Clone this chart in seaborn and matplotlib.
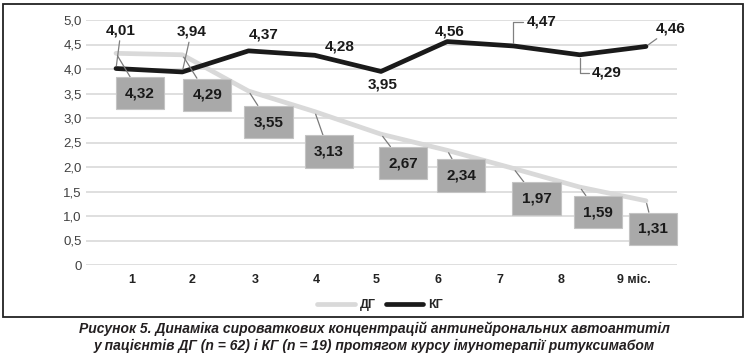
import matplotlib
matplotlib.use("Agg")
import matplotlib.pyplot as plt
from matplotlib.patches import Rectangle
from matplotlib.lines import Line2D
from matplotlib.ticker import FuncFormatter
import pandas as pd
import seaborn as sns

# дані
months = ['1', '2', '3', '4', '5', '6', '7', '8', '9 міс.']
dg = [4.32, 4.29, 3.55, 3.13, 2.67, 2.34, 1.97, 1.59, 1.31]
kg = [4.01, 3.94, 4.37, 4.28, 3.95, 4.56, 4.47, 4.29, 4.46]

# розташування підписів (зсув у пікселях від точки) і виноски
kg_offsets = [(5, 38), (9, 40), (15, 16), (25, 9), (2, -13), (2, 10), (28, 24), (27, -18), (25, 18)]
kg_leader = ['line', 'line', None, None, None, None, 'elbow', 'elbow', 'line']
dg_offsets = [(24, -40), (25, -40), (20, -31), (14, -40), (22, -29), (14, -25), (23, -30), (18, -25), (7, -28)]
tick_pos = [0.24, 1.15, 2.10, 3.02, 3.92, 4.86, 5.80, 6.72, 7.82]

caption = ['Рисунок 5. Динаміка сироваткових концентрацій антинейрональних автоантитіл',
           'у пацієнтів ДГ (n = 62) і КГ (n = 19) протягом курсу імунотерапії ритуксимабом']

colors = {'ДГ': '#d9d9d9', 'КГ': '#1a1a1a'}

df = pd.DataFrame({
    'pos': list(range(len(months))) * 2,
    'value': dg + kg,
    'group': ['ДГ'] * len(dg) + ['КГ'] * len(kg),
})

sns.set_theme(style='white')
plt.rcParams['font.family'] = ['Liberation Sans', 'DejaVu Sans']

fig = plt.figure(figsize=(7.48, 3.63), dpi=100)
ax = fig.add_axes([86 / 748, 1 - 265 / 363, (677 - 86) / 748, 245 / 363])

sns.lineplot(data=df, x='pos', y='value', hue='group', palette=colors,
             linewidth=3.4, legend=False, ax=ax)

ax.set_xlim(-0.453, 8.468)
ax.set_ylim(0, 5)
ax.set_yticks([i * 0.5 for i in range(11)])
ax.yaxis.set_major_formatter(FuncFormatter(lambda v, p: '0' if v == 0 else f'{v:.1f}'.replace('.', ',')))
ax.set_xticks(tick_pos)
ax.set_xticklabels(months, fontweight='bold')
ax.tick_params(axis='y', length=0, pad=3, labelsize=9.5, labelcolor='#404040')
ax.tick_params(axis='x', length=0, pad=6.5, labelsize=9, labelcolor='#222222')
ax.grid(axis='y', color='#d9d9d9', lw=1.2)
ax.set_axisbelow(True)
for s in ax.spines.values():
    s.set_visible(False)
ax.set_xlabel('')
ax.set_ylabel('')

# підписи КГ
for i, v in enumerate(kg):
    lab = f'{v:.2f}'.replace('.', ',')
    arrow = None
    if kg_leader[i] == 'line':
        arrow = dict(arrowstyle='-', color='#808080', lw=0.9, shrinkA=0, shrinkB=2)
    elif kg_leader[i] == 'elbow':
        arrow = dict(arrowstyle='-', color='#808080', lw=0.9, shrinkA=0, shrinkB=2,
                     connectionstyle='angle,angleA=0,angleB=90,rad=0')
    ax.annotate(lab, xy=(i, v), xytext=kg_offsets[i], textcoords='offset pixels',
                ha='center', va='center', fontsize=11, fontweight='bold',
                color='#1a1a1a', arrowprops=arrow, zorder=5)

# підписи ДГ у сірих рамках
for i, v in enumerate(dg):
    lab = f'{v:.2f}'.replace('.', ',')
    ax.annotate(lab, xy=(i, v), xytext=dg_offsets[i], textcoords='offset pixels',
                ha='center', va='center', fontsize=11, fontweight='bold',
                color='#1a1a1a',
                bbox=dict(boxstyle='square,pad=0.6', fc='#a9a9a9', ec='#c4c4c4', lw=0.8),
                arrowprops=dict(arrowstyle='-', color='#7a7a7a', lw=0.9, shrinkA=0, shrinkB=2),
                zorder=5)

handles = [Line2D([], [], color=colors[g], lw=3.4) for g in ['ДГ', 'КГ']]
leg = fig.legend(handles, ['ДГ', 'КГ'], loc='center', bbox_to_anchor=(380 / 748, 1 - 305 / 363),
                 ncol=2, frameon=False, handlelength=3.0, handletextpad=0.4, columnspacing=0.8,
                 prop={'size': 9, 'weight': 'bold'})

fig.patches.append(Rectangle((3 / 748, 1 - 317 / 363), 740 / 748, 313 / 363,
                             transform=fig.transFigure, fill=False, lw=1.3, ec='#222222'))

fig.text(0.5, 1 - 329 / 363, caption[0], ha='center', va='center', fontsize=10,
         fontweight='bold', style='italic', color='#231f20')
fig.text(0.5, 1 - 346 / 363, caption[1], ha='center', va='center', fontsize=10,
         fontweight='bold', style='italic', color='#231f20')

fig.savefig('out.png', dpi=100)
